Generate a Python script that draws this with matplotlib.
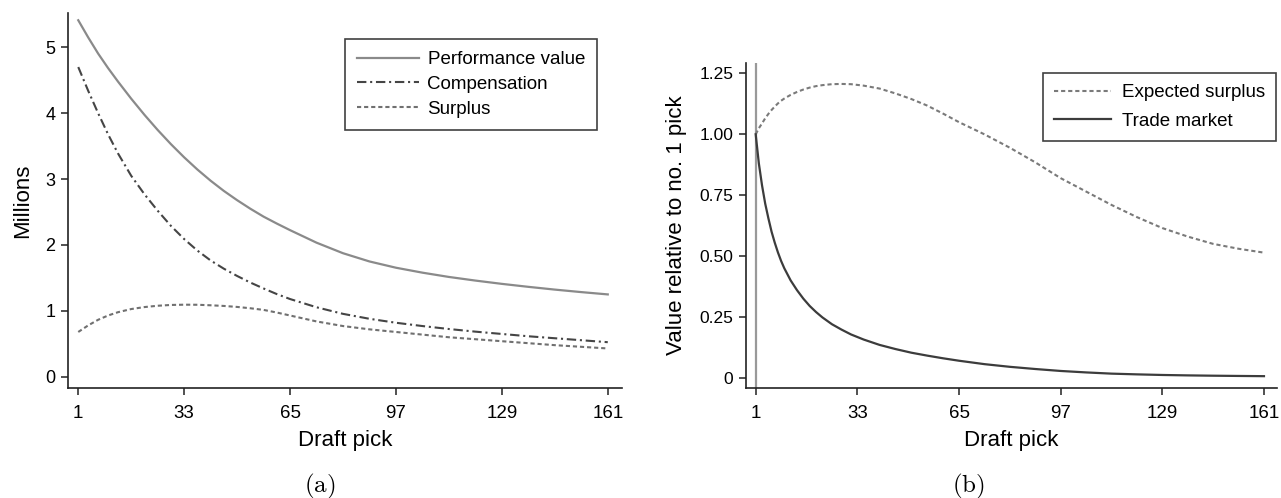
import matplotlib
matplotlib.use("Agg")
import matplotlib.pyplot as plt

plt.rcParams["font.family"] = ["Liberation Sans", "DejaVu Sans"]
plt.rcParams["mathtext.fontset"] = "cm"

# ── Panel (a): values in millions ──────────────────────────────
picks_a = [1, 4, 7, 10, 13, 17, 21, 25, 29, 33, 37, 41, 45, 49, 53, 57, 61,
           65, 73, 81, 89, 97, 105, 113, 121, 129, 137, 145, 153, 161]
performance = [5.41, 5.15, 4.905, 4.685, 4.48, 4.22, 3.975, 3.745, 3.53, 3.33,
               3.145, 2.975, 2.82, 2.68, 2.55, 2.43, 2.325, 2.225, 2.035,
               1.875, 1.75, 1.655, 1.58, 1.515, 1.46, 1.41, 1.365, 1.323,
               1.285, 1.25]
compensation = [4.70, 4.34, 4.00, 3.68, 3.39, 3.05, 2.77, 2.52, 2.29, 2.09,
                1.915, 1.765, 1.64, 1.53, 1.43, 1.34, 1.255, 1.18, 1.055,
                0.955, 0.88, 0.82, 0.77, 0.725, 0.685, 0.65, 0.615, 0.585,
                0.555, 0.525]
surplus = [0.68, 0.78, 0.865, 0.93, 0.98, 1.028, 1.058, 1.078, 1.09, 1.094,
           1.093, 1.085, 1.075, 1.06, 1.04, 1.015, 0.975, 0.93, 0.84, 0.77,
           0.72, 0.68, 0.64, 0.60, 0.57, 0.54, 0.51, 0.48, 0.455, 0.43]

# ── Panel (b): value relative to no. 1 pick ────────────────────
picks_b = [1, 2, 3, 4, 5, 6, 7, 8, 9, 10, 12, 14, 16, 18, 20, 22, 25, 28,
           31, 35, 40, 45, 50, 55, 60, 65, 73, 81, 89, 97, 105, 113, 121,
           129, 137, 145, 153, 161]
expected_surplus = [1.00, 1.025, 1.045, 1.066, 1.084, 1.10, 1.114, 1.127,
                    1.138, 1.147, 1.162, 1.174, 1.184, 1.192, 1.198, 1.202,
                    1.206, 1.207, 1.206, 1.200, 1.188, 1.168, 1.145, 1.118,
                    1.085, 1.05, 1.00, 0.945, 0.885, 0.82, 0.765, 0.71, 0.66,
                    0.615, 0.58, 0.55, 0.53, 0.514]
trade_market = [1.0, 0.88, 0.79, 0.715, 0.655, 0.60, 0.555, 0.515, 0.48,
                0.45, 0.40, 0.36, 0.325, 0.295, 0.27, 0.248, 0.22, 0.198,
                0.178, 0.157, 0.135, 0.118, 0.103, 0.091, 0.08, 0.07, 0.056,
                0.045, 0.036, 0.028, 0.022, 0.017, 0.014, 0.0115, 0.0098,
                0.0085, 0.0075, 0.0066]

xticks = [1, 33, 65, 97, 129, 161]
yticks_a = [0, 1, 2, 3, 4, 5]
yticks_b = [0, 0.25, 0.5, 0.75, 1.0, 1.25]
ylabels_b = ["0", "0.25", "0.50", "0.75", "1.00", "1.25"]

W, H = 1281, 498
fig = plt.figure(figsize=(W / 100, H / 100), dpi=100)


def px_axes(x0, y0, x1, y1):
    return fig.add_axes([x0 / W, 1 - y1 / H, (x1 - x0) / W, (y1 - y0) / H])


def style(ax, ysize):
    for s in ("top", "right"):
        ax.spines[s].set_visible(False)
    for s in ("left", "bottom"):
        ax.spines[s].set_linewidth(1.2)
        ax.spines[s].set_color("#222222")
    ax.tick_params(axis="both", direction="out", length=5, width=1.1,
                   color="#222222")
    ax.tick_params(axis="x", pad=7, labelsize=13.5)
    ax.tick_params(axis="y", pad=4, labelsize=ysize)


# ── (a) ────────────────────────────────────────────────────────
ax1 = px_axes(68, 13, 622, 388)
style(ax1, 13)
ax1.plot(picks_a, performance, color="#8a8a8a", lw=1.6, label="Performance value")
ax1.plot(picks_a, compensation, color="#454545", lw=1.5,
         dashes=[4.5, 1.8, 1.0, 1.8], label="Compensation")
ax1.plot(picks_a, surplus, color="#707070", lw=1.5,
         dashes=[2.0, 1.4], label="Surplus")
ax1.set_xlim(-2.1, 165.3)
ax1.set_ylim(-0.17, 5.52)
ax1.set_xticks(xticks)
ax1.set_yticks(yticks_a)
ax1.set_xlabel("Draft pick", fontsize=16, labelpad=6)
ax1.set_ylabel("Millions", fontsize=16, labelpad=9)
leg1 = ax1.legend(loc="upper left", bbox_to_anchor=(345 / W, 1 - 39 / H),
                  bbox_transform=fig.transFigure, borderaxespad=0,
                  fontsize=13.5, frameon=True, fancybox=False,
                  handlelength=3.3, handletextpad=0.45, labelspacing=0.4,
                  borderpad=0.65)
leg1.get_frame().set_edgecolor("#111111")
leg1.get_frame().set_linewidth(1.2)

# ── (b) ────────────────────────────────────────────────────────
ax2 = px_axes(746, 63, 1277, 388)
style(ax2, 12.5)
ax2.axvline(1, color="#999999", lw=1.6)
ax2.plot(picks_b, expected_surplus, color="#7a7a7a", lw=1.5,
         dashes=[2.0, 1.4], label="Expected surplus")
ax2.plot(picks_b, trade_market, color="#3c3c3c", lw=1.6, label="Trade market")
ax2.set_xlim(-2.05, 165.1)
ax2.set_ylim(-0.042, 1.293)
ax2.set_xticks(xticks)
ax2.set_yticks(yticks_b)
ax2.set_yticklabels(ylabels_b)
ax2.set_xlabel("Draft pick", fontsize=16, labelpad=6)
ax2.set_ylabel("Value relative to no. 1 pick", fontsize=16, labelpad=9)
leg2 = ax2.legend(loc="upper left", bbox_to_anchor=(1043 / W, 1 - 73 / H),
                  bbox_transform=fig.transFigure, borderaxespad=0,
                  fontsize=13.5, frameon=True, fancybox=False,
                  handlelength=3.0, handletextpad=0.6, labelspacing=0.6,
                  borderpad=0.6)
leg2.get_frame().set_edgecolor("#111111")
leg2.get_frame().set_linewidth(1.2)

# ── sub-figure captions ────────────────────────────────────────
fig.text(320 / W, 1 - 486 / H, r"$\mathrm{(a)}$", ha="center", va="center",
         fontsize=18)
fig.text(968 / W, 1 - 486 / H, r"$\mathrm{(b)}$", ha="center", va="center",
         fontsize=18)

fig.savefig("out.png", dpi=100, facecolor="white")
